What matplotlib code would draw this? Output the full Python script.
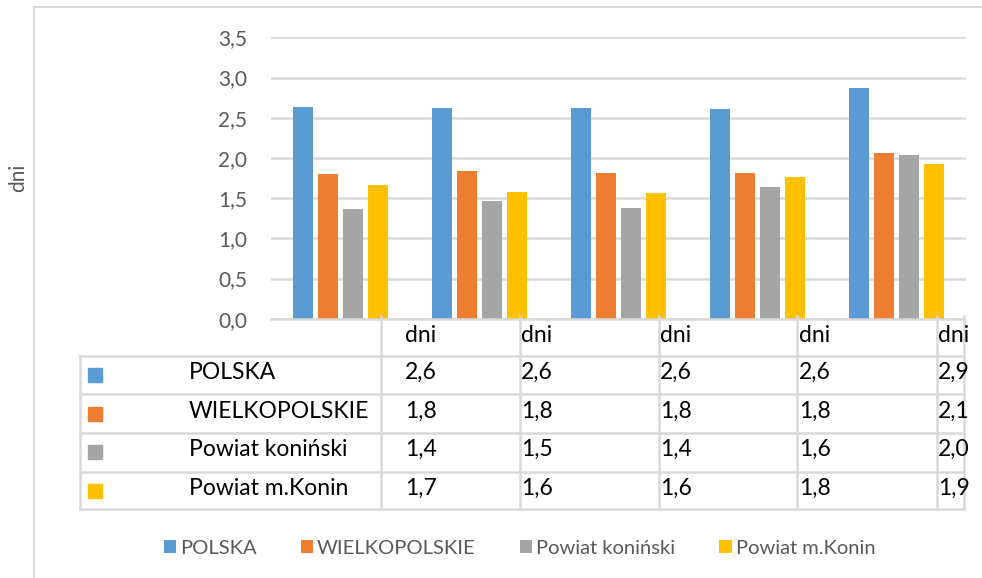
import matplotlib
matplotlib.use("Agg")
import matplotlib.pyplot as plt
from matplotlib.patches import Rectangle
import numpy as np

plt.rcParams['font.family'] = ['Lato', 'DejaVu Sans']

# five periods, the data table only shows the unit in its header row
periods = ["dni", "dni", "dni", "dni", "dni"]
series = ["POLSKA", "WIELKOPOLSKIE", "Powiat koniński", "Powiat m.Konin"]
polska = [2.63, 2.62, 2.62, 2.61, 2.87]
wielkopolskie = [1.80, 1.84, 1.81, 1.81, 2.06]
powiat_koninski = [1.36, 1.46, 1.38, 1.64, 2.04]
powiat_konin = [1.66, 1.57, 1.56, 1.76, 1.93]
colors = ["#5B9BD5", "#ED7D31", "#A5A5A5", "#FFC000"]
yticks = [0.0, 0.5, 1.0, 1.5, 2.0, 2.5, 3.0, 3.5]

values = [polska, wielkopolskie, powiat_koninski, powiat_konin]

W, H = 982, 578
GRID = "#D9D9D9"
TXT = "#595959"

fig = plt.figure(figsize=(W / 100, H / 100), dpi=100)

# plot area in pixels
x0, x1 = 271, 966
ytop, ybot = 37.3, 318.7
ax = fig.add_axes([x0 / W, 1 - ybot / H, (x1 - x0) / W, (ybot - ytop) / H])

x = np.arange(len(periods))
pitch = 0.18
width = 0.144
bars = []
for i, (vals, c) in enumerate(zip(values, colors)):
    b = ax.bar(x + (i - 1.5) * pitch, vals, width, color=c, zorder=3, label=series[i])
    bars.append(b)

ax.set_xlim(-0.5, len(periods) - 0.5)
ax.set_ylim(0, 3.5)
ax.set_yticks(yticks)
ax.set_yticklabels([f"{t:.1f}".replace(".", ",") for t in yticks], fontsize=15, color=TXT)
ax.set_xticks([])
ax.tick_params(axis="y", length=0, pad=17)
ax.grid(axis="y", color=GRID, linewidth=1.8, zorder=0)
for s in ax.spines.values():
    s.set_visible(False)

# overlay in pixel coordinates for the border and axis title
ov = fig.add_axes([0, 0, 1, 1], zorder=-1)
ov.set_xlim(0, W)
ov.set_ylim(H, 0)
ov.axis("off")

# chart border
ov.plot([34, W], [7, 7], color=GRID, lw=1.5)
ov.plot([34, 34], [7, H], color=GRID, lw=1.5)

ov.text(18, 178, "dni", rotation=90, ha="center", va="center", fontsize=15, color=TXT)

# data table under the plot
tbl = fig.add_axes([0, 0, 1, 1])
tbl.set_xlim(0, W)
tbl.set_ylim(H, 0)
tbl.axis("off")

rows_y = [356, 394, 433, 472, 509]
col_x = [381, 520, 659, 797, 937]
right = 964
tbl.plot([271, right], [318.7, 318.7], color=GRID, lw=1.8)
for yy in rows_y:
    tbl.plot([80, right], [yy, yy], color=GRID, lw=1.8)
tbl.plot([80, 80], [rows_y[0], rows_y[-1]], color=GRID, lw=1.8)
for xx in col_x + [right]:
    tbl.plot([xx, xx], [316, rows_y[-1]], color=GRID, lw=1.8)

text_x = [405, 521, 660, 799, 938]
for tx, p in zip(text_x, periods):
    tbl.text(tx, 342, p, fontsize=16.5, color="black", va="baseline")

baselines = [379, 418, 456, 495]
for r, (name, vals, c) in enumerate(zip(series, values, colors)):
    yb = baselines[r]
    tbl.add_patch(Rectangle((88, yb - 11), 14, 14, color=c))
    tbl.text(189, yb, name, fontsize=16.5, color="black", va="baseline")
    for tx, v in zip(text_x, vals):
        tbl.text(tx, yb, f"{v:.1f}".replace(".", ","), fontsize=16.5,
                 color="black", va="baseline")

leg = fig.legend(handles=bars, labels=series, loc="center",
                 bbox_to_anchor=(519.5 / W, 1 - 548 / H), ncol=4, frameon=False,
                 fontsize=14.5, handlelength=0.6, handleheight=0.6,
                 handletextpad=0.2, columnspacing=2.2)
for t in leg.get_texts():
    t.set_color(TXT)

fig.savefig("out.png", dpi=100)
